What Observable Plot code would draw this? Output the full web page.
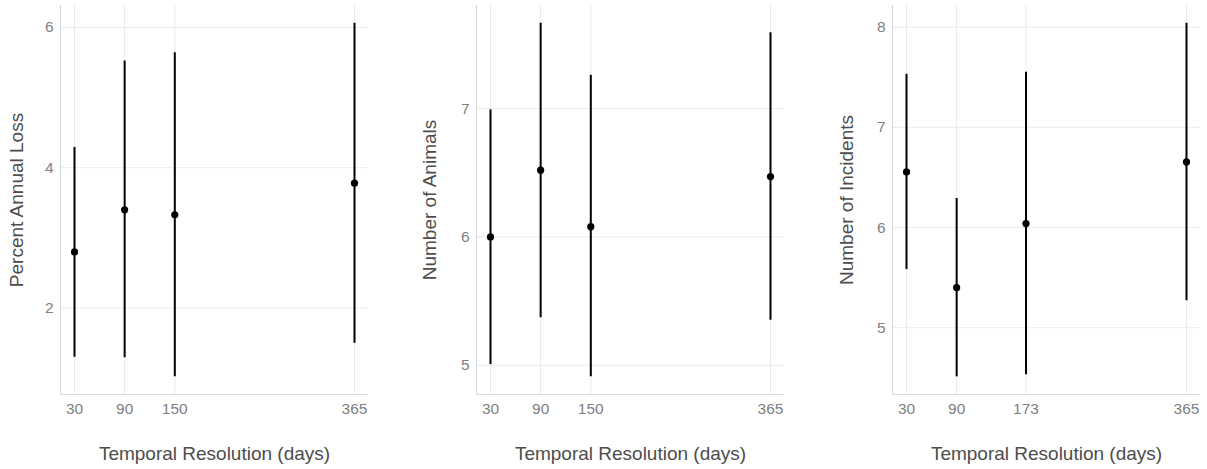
<!DOCTYPE html>
<html>
<head>
<meta charset="utf-8">
<script src="https://cdn.jsdelivr.net/npm/d3@7"></script>
<script src="https://cdn.jsdelivr.net/npm/@observablehq/plot@0.6"></script>
<style>
  html, body { margin: 0; padding: 0; background: #fff; }
  #row { display: flex; width: 1207px; height: 469px; }
  svg { font-family: "Liberation Sans", Arial, sans-serif; }
  g[aria-label="x-axis tick label"], g[aria-label="y-axis tick label"],
  g[aria-label="x-axis tick label"] text, g[aria-label="y-axis tick label"] text { fill: #7f7f7f; font-size: 15.5px; }
</style>
</head>
<body>
<div id="row"></div>
<script>
// Panel 1: Percent Annual Loss
const res1 = [30, 90, 150, 365];
const mean1 = [2.80, 3.40, 3.33, 3.78];
const lo1 = [1.30, 1.29, 1.02, 1.50];
const hi1 = [4.29, 5.52, 5.64, 6.06];
const yTicks1 = [2, 4, 6];

// Panel 2: Number of Animals
const res2 = [30, 90, 150, 365];
const mean2 = [6.00, 6.52, 6.08, 6.47];
const lo2 = [5.005, 5.37, 4.91, 5.35];
const hi2 = [6.99, 7.665, 7.26, 7.59];
const yTicks2 = [5, 6, 7];

// Panel 3: Number of Incidents
const res3 = [30, 90, 173, 365];
const mean3 = [6.555, 5.40, 6.04, 6.655];
const lo3 = [5.58, 4.51, 4.53, 5.27];
const hi3 = [7.53, 6.29, 7.55, 8.04];
const yTicks3 = [5, 6, 7, 8];

const xTitle = "Temporal Resolution (days)";
const yTitles = ["Percent Annual Loss", "Number of Animals", "Number of Incidents"];

const panels = [
  {res: res1, mean: mean1, lo: lo1, hi: hi1, yTicks: yTicks1, width: 402, ml: 60, mr: 34, ydx: -44, yt: yTitles[0]},
  {res: res2, mean: mean2, lo: lo2, hi: hi2, yTicks: yTicks2, width: 402, ml: 74, mr: 20, ydx: -47, yt: yTitles[1]},
  {res: res3, mean: mean3, lo: lo3, hi: hi3, yTicks: yTicks3, width: 403, ml: 88, mr: 7, ydx: -46, yt: yTitles[2]}
];

function expand([a, b]) { const d = (b - a) * 0.05; return [a - d, b + d]; }

const row = document.getElementById("row");
for (const p of panels) {
  const data = p.res.map((r, i) => ({res: r, mean: p.mean[i], lo: p.lo[i], hi: p.hi[i]}));
  const xd = expand(d3.extent(p.res));
  const yd = expand([d3.min(p.lo), d3.max(p.hi)]);
  const chart = Plot.plot({
    width: p.width,
    height: 469,
    marginTop: 5,
    marginBottom: 75,
    marginLeft: p.ml,
    marginRight: p.mr,
    style: {fontFamily: "Liberation Sans, Arial, sans-serif", background: "#fff"},
    x: {domain: xd},
    y: {domain: yd},
    marks: [
      Plot.gridX(p.res, {stroke: "#ebebeb", strokeOpacity: 1, strokeWidth: 1}),
      Plot.gridY(p.yTicks, {stroke: "#ebebeb", strokeOpacity: 1, strokeWidth: 1}),
      Plot.ruleX([xd[0]], {stroke: "#d9d9d9", strokeWidth: 1.2}),
      Plot.ruleY([yd[0]], {stroke: "#d9d9d9", strokeWidth: 1.2}),
      Plot.axisX(p.res, {tickSize: 0, tickPadding: 8, tickFormat: "d", label: null}),
      Plot.axisY(p.yTicks, {tickSize: 0, tickPadding: 7, tickFormat: "d", label: null}),
      Plot.text([xTitle], {frameAnchor: "bottom", dy: 59, textAnchor: "middle", lineAnchor: "middle", fontSize: 19, fill: "#4d4d4d"}),
      Plot.text([p.yt], {frameAnchor: "left", dx: p.ydx, rotate: -90, textAnchor: "middle", lineAnchor: "middle", fontSize: 19, fill: "#4d4d4d"}),
      Plot.ruleX(data, {x: "res", y1: "lo", y2: "hi", stroke: "#000", strokeWidth: 2}),
      Plot.dot(data, {x: "res", y: "mean", r: 3.6, fill: "#000", stroke: "none"})
    ]
  });
  row.appendChild(chart);
}
</script>
</body>
</html>
